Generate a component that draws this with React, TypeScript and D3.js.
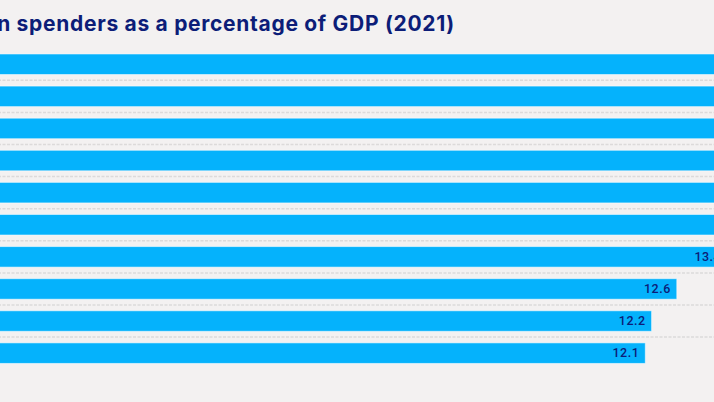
import React, { useEffect, useRef } from "react";
import * as d3 from "d3";

const WIDTH = 714;
const HEIGHT = 402;

const TITLE = "Top 10 pension spenders as a percentage of GDP (2021)";
const countries = [
  "Italy",
  "Greece",
  "France",
  "Austria",
  "Finland",
  "Portugal",
  "Spain",
  "Belgium",
  "Denmark",
  "Germany",
];
const values = [16.3, 15.7, 14.8, 14.6, 14.2, 14.0, 13.4, 12.6, 12.2, 12.1];

const BG = "#f3f1f1";
const BAR = "#05b2fc";
const NAVY = "#0c1d78";

export default function App() {
  const svgRef = useRef<SVGSVGElement | null>(null);

  useEffect(() => {
    const svg = d3.select(svgRef.current);
    svg.selectAll("*").remove();

    svg
      .append("rect")
      .attr("width", WIDTH)
      .attr("height", HEIGHT)
      .attr("fill", BG);

    // the chart is wider than the window: the value axis starts left of the view
    const x = d3.scaleLinear().domain([0, 20]).range([-117, -117 + 20 * 63]);
    const y = d3
      .scaleBand<string>()
      .domain(countries)
      .range([48.2, 369.2])
      .paddingInner(0.36)
      .paddingOuter(0.18);

    svg
      .append("text")
      .attr("x", 455)
      .attr("y", 31)
      .attr("text-anchor", "end")
      .attr("fill", NAVY)
      .style("font-family", "Inter, 'Noto Sans', sans-serif")
      .style("font-weight", 700)
      .style("font-size", "21px")
      .style("letter-spacing", "0.7px")
      .text(TITLE);

    const gap = y.step() - y.bandwidth();

    // dashed separators between rows
    svg
      .append("g")
      .selectAll("line")
      .data(countries.slice(0, -1))
      .join("line")
      .attr("x1", x(0) - 200)
      .attr("x2", WIDTH)
      .attr("y1", (d) => y(d)! + y.bandwidth() + gap / 2)
      .attr("y2", (d) => y(d)! + y.bandwidth() + gap / 2)
      .attr("stroke", "#dcdada")
      .attr("stroke-width", 1.5)
      .attr("stroke-dasharray", "3 1.5");

    const rows = countries.map((c, i) => ({ c, v: values[i] }));

    svg
      .append("g")
      .selectAll("rect")
      .data(rows)
      .join("rect")
      .attr("x", x(0))
      .attr("y", (d) => y(d.c)!)
      .attr("width", (d) => x(d.v) - x(0))
      .attr("height", y.bandwidth())
      .attr("fill", BAR)
      .attr("stroke", "#ffffff")
      .attr("stroke-opacity", 0.55)
      .attr("stroke-width", 1);

    svg
      .append("g")
      .selectAll("text")
      .data(rows)
      .join("text")
      .attr("x", (d) => x(d.v) - 6)
      .attr("y", (d) => y(d.c)! + y.bandwidth() / 2 + 1)
      .attr("text-anchor", "end")
      .attr("dominant-baseline", "middle")
      .attr("fill", NAVY)
      .style("font-family", "Roboto, 'DejaVu Sans', sans-serif")
      .style("font-weight", 500)
      .style("font-size", "12.5px")
      .style("letter-spacing", "0.5px")
      .text((d) => d.v.toFixed(1));

    svg
      .append("g")
      .selectAll("text")
      .data(rows)
      .join("text")
      .attr("x", x(0) - 10)
      .attr("y", (d) => y(d.c)! + y.bandwidth() / 2 + 1)
      .attr("text-anchor", "end")
      .attr("dominant-baseline", "middle")
      .attr("fill", NAVY)
      .style("font-family", "Roboto, sans-serif")
      .style("font-size", "13px")
      .text((d) => d.c);
  }, []);

  return (
    <svg
      ref={svgRef}
      width={WIDTH}
      height={HEIGHT}
      style={{ position: "fixed", top: 0, left: 0, display: "block" }}
    />
  );
}
